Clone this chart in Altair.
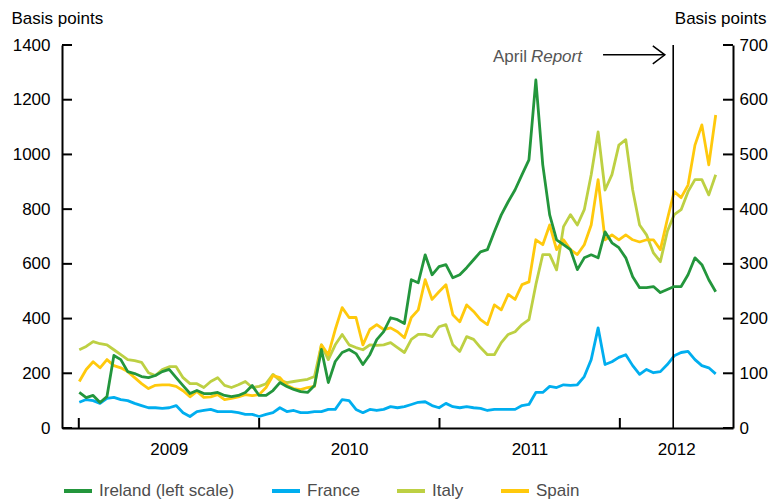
import altair as alt
import pandas as pd

# ---------------- data ----------------
dates = pd.date_range("2009-01-02", periods=93, freq="14D")

ireland = [130, 111, 119, 93, 115, 265, 250, 206, 199, 188, 184, 192, 206, 214, 184, 155, 126, 137,
           126, 126, 130, 119, 115, 119, 130, 155, 119, 119, 137, 166, 152, 141, 133, 130, 155,
           287, 166, 243, 276, 287, 272, 232, 268, 323, 352, 403, 396, 382, 542, 531, 633, 560,
           590, 597, 549, 560, 586, 615, 644, 652, 717, 779, 827, 871, 926, 980, 1272, 962, 779,
           688, 670, 652, 579, 622, 633, 622, 717, 677, 659, 622, 553, 513, 513, 517, 495, 506,
           517, 517, 560, 622, 597, 542, 498]
france = [47, 52, 50, 45, 54, 56, 52, 50, 45, 41, 37, 37, 36, 37, 41, 28, 21, 30,
          32, 34, 30, 30, 30, 28, 25, 25, 21, 25, 28, 37, 30, 32, 28, 28, 30,
          30, 34, 34, 52, 50, 34, 28, 34, 32, 34, 39, 37, 39, 43, 47, 48, 41,
          37, 45, 39, 37, 39, 37, 36, 32, 34, 34, 34, 34, 41, 43, 65, 65, 76,
          74, 79, 78, 79, 94, 125, 183, 116, 121, 129, 134, 114, 98, 107, 101, 103, 116,
          132, 138, 140, 125, 114, 110, 99]
italy = [143, 149, 158, 154, 152, 143, 134, 125, 123, 120, 101, 96, 107, 112, 112, 92, 81, 81,
         74, 85, 92, 78, 74, 79, 85, 74, 76, 81, 98, 87, 83, 85, 87, 89, 94,
         152, 125, 152, 171, 152, 147, 143, 152, 151, 152, 156, 147, 138, 162, 171, 171, 167,
         185, 189, 152, 140, 167, 162, 147, 134, 134, 156, 171, 176, 189, 198, 262, 317, 317,
         289, 368, 390, 371, 399, 463, 541, 435, 463, 517, 527, 435, 371, 353, 320, 304, 359,
         390, 399, 432, 454, 454, 426, 463]
spain = [85, 107, 121, 110, 125, 114, 110, 103, 92, 81, 72, 78, 79, 79, 76, 68, 57, 67,
         56, 57, 61, 52, 54, 57, 61, 59, 61, 74, 96, 92, 78, 72, 70, 74, 76,
         152, 134, 180, 220, 202, 202, 152, 180, 189, 180, 183, 176, 165, 202, 216, 271, 235,
         249, 262, 207, 194, 225, 213, 198, 189, 225, 216, 244, 235, 262, 267, 344, 335, 371,
         326, 344, 326, 317, 335, 371, 454, 344, 353, 344, 353, 344, 340, 344, 344, 326, 381,
         432, 421, 444, 517, 554, 481, 572]

series_names = ["Ireland (left scale)", "France", "Italy", "Spain"]
series_colors = ["#23963C", "#00AEEF", "#BDD043", "#FFC90C"]

left_tick_values = [0, 200, 400, 600, 800, 1000, 1200, 1400]
right_tick_values = [0, 100, 200, 300, 400, 500, 600, 700]
year_starts = ["2009-01-01", "2010-01-01", "2011-01-01", "2012-01-01"]
year_label_dates = [(2009, 7, 2), (2010, 7, 2), (2011, 7, 2), (2012, 4, 24)]
x_domain_dates = [(2008, 11, 28), (2012, 8, 17)]
report_date = ["2012-04-18"]
arrow_start, arrow_end, arrow_level = "2011-11-28", "2012-04-01", 1364
text_level = 1338
april_end, report_start = "2011-06-27", "2011-07-05"

# ---------------- layout / style ----------------
W, H = 671, 383
FONT = "Liberation Sans"
FS = 17

frames = [pd.DataFrame({"date": dates, "series": n, "value": v})
          for n, v in zip(series_names, [ireland, france, italy, spain])]
df = pd.concat(frames, ignore_index=True)
left_df = df[df["series"] == series_names[0]]
right_df = df[df["series"] != series_names[0]]

x_scale = alt.Scale(domain=[alt.DateTime(year=y, month=m, date=d) for y, m, d in x_domain_dates])
x_axis = alt.Axis(values=[alt.DateTime(year=y, month=m, date=d) for y, m, d in year_label_dates],
                  format="%Y", ticks=False, tickSize=0, grid=False, domainColor="black",
                  domainWidth=2, labelFontSize=FS, labelFont=FONT, labelColor="black",
                  labelPadding=13, title=None, labelFlush=False, labelOverlap=False)

left_scale = alt.Scale(domain=[0, 1400], nice=False)
right_scale = alt.Scale(domain=[0, 700], nice=False)


def y_axis(orient, pad, title_x, title_align):
    return alt.Axis(orient=orient, values=left_tick_values if orient == "left" else right_tick_values,
                    format="d", ticks=False, tickSize=0, grid=False, domainColor="black",
                    domainWidth=2, labelFontSize=FS, labelFont=FONT, labelColor="black",
                    labelPadding=pad, labelFlush=False, title="Basis points", titleAngle=0,
                    titleAlign=title_align, titleBaseline="alphabetic", titleX=title_x,
                    titleY=-22, titleFontSize=FS, titleFont=FONT, titleFontWeight="normal",
                    titleColor="black")


left_axis = y_axis("left", 12, -51, "left")
right_axis = y_axis("right", 6, 33, "right")

color = alt.Color("series:N", scale=alt.Scale(domain=series_names, range=series_colors),
                  legend=alt.Legend(title=None, orient="none", legendX=0, legendY=430,
                                    direction="horizontal", symbolType="stroke",
                                    symbolStrokeWidth=4, symbolSize=784, labelFontSize=FS,
                                    labelFont=FONT, labelColor="#4d4d4d", columnPadding=29,
                                    labelOffset=5, labelLimit=300))

X = alt.X("date:T", scale=x_scale, axis=x_axis)

# right-scale group
right_lines = alt.Chart(right_df).mark_line(strokeWidth=2.8, strokeJoin="round").encode(
    x=X, y=alt.Y("value:Q", scale=right_scale, axis=right_axis), color=color,
    detail="series:N")
right_ticks = alt.Chart(pd.DataFrame({"v": right_tick_values})).mark_rule(
    strokeWidth=2, color="black").encode(
    y=alt.Y("v:Q", scale=right_scale, axis=right_axis), x=alt.value(W - 10), x2=alt.value(W))
right_group = alt.layer(right_lines, right_ticks)

# left-scale group
left_line = alt.Chart(left_df).mark_line(strokeWidth=2.8, strokeJoin="round").encode(
    x=X, y=alt.Y("value:Q", scale=left_scale, axis=left_axis), color=color)
left_ticks = alt.Chart(pd.DataFrame({"v": left_tick_values})).mark_rule(
    strokeWidth=2, color="black").encode(
    y=alt.Y("v:Q", scale=left_scale, axis=left_axis), x=alt.value(0), x2=alt.value(10))
year_ticks = alt.Chart(pd.DataFrame({"date": year_starts})).mark_rule(
    strokeWidth=2, color="black").encode(x=X, y=alt.value(H - 10), y2=alt.value(H))
report_line = alt.Chart(pd.DataFrame({"date": report_date})).mark_rule(
    strokeWidth=1.6, color="black").encode(x=X)

arrow_df = pd.DataFrame({"date": [arrow_start], "end": [arrow_end], "v": [arrow_level]})
arrow_shaft = alt.Chart(arrow_df).mark_rule(strokeWidth=1.5, color="black").encode(
    x=X, x2="end:T", y=alt.Y("v:Q", scale=left_scale, axis=left_axis))
arrow_head = alt.Chart(pd.DataFrame({"date": [arrow_end], "v": [arrow_level]})).mark_point(
    shape="M-1.2,-0.9L0,0L-1.2,0.9", size=400, filled=False, strokeWidth=1.5,
    color="black", opacity=1).encode(x=X, y=alt.Y("v:Q", scale=left_scale, axis=left_axis))
april_text = alt.Chart(pd.DataFrame({"date": [april_end], "v": [text_level], "t": ["April"]})).mark_text(
    align="right", baseline="alphabetic", fontSize=FS, font=FONT, color="#555555").encode(
    x=X, y=alt.Y("v:Q", scale=left_scale, axis=left_axis), text="t:N")
report_text = alt.Chart(pd.DataFrame({"date": [report_start], "v": [text_level], "t": ["Report"]})).mark_text(
    align="left", baseline="alphabetic", fontSize=FS, font=FONT, fontStyle="italic",
    color="#555555").encode(x=X, y=alt.Y("v:Q", scale=left_scale, axis=left_axis), text="t:N")

left_group = alt.layer(left_ticks, year_ticks, report_line, arrow_shaft, arrow_head,
                       april_text, report_text, left_line)

chart = alt.layer(right_group, left_group).resolve_scale(y="independent").properties(
    width=W, height=H,
    padding={"left": 54, "top": 37, "right": 35, "bottom": 72},
    autosize=alt.AutoSizeParams(type="none"),
).configure_view(strokeWidth=0)

chart.save("out.html", embed_options={"renderer": "svg", "actions": False})
